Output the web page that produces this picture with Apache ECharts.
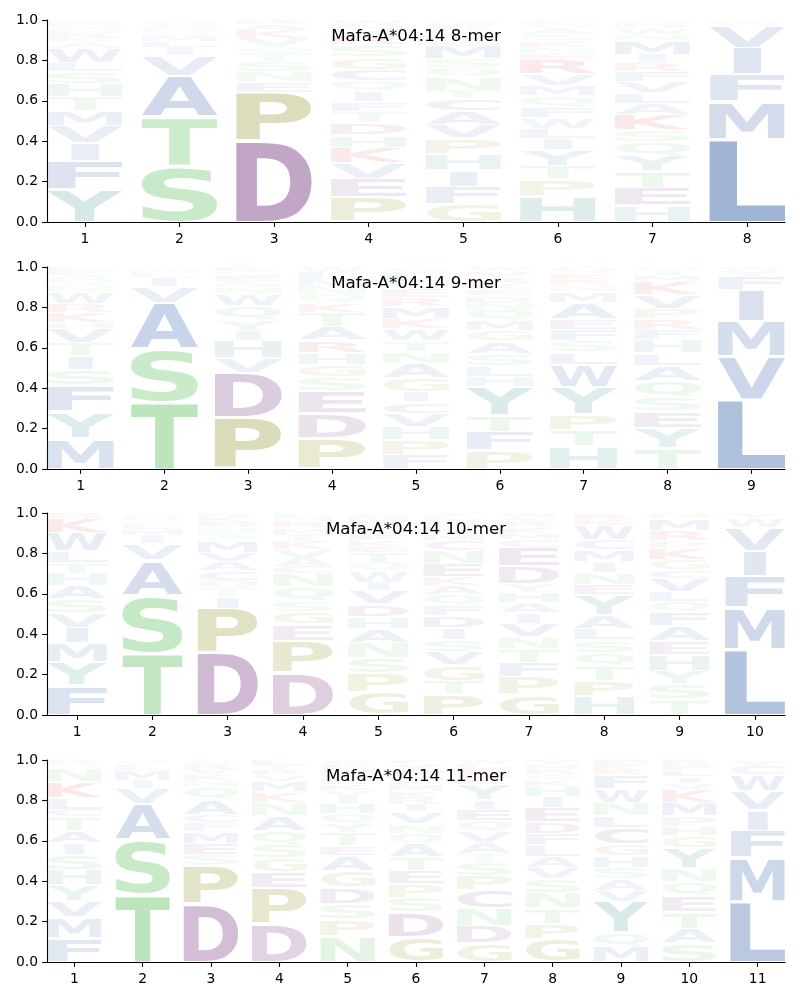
<!DOCTYPE html>
<html><head><meta charset="utf-8">
<script src="https://cdn.jsdelivr.net/npm/echarts@6.0.0/dist/echarts.min.js"></script>
<style>html,body{margin:0;padding:0;background:#fff}#c{width:800px;height:1000px}</style>
</head><body><div id="c"></div>
<script>
const panelTitles = ['Mafa-A*04:14 8-mer', 'Mafa-A*04:14 9-mer', 'Mafa-A*04:14 10-mer', 'Mafa-A*04:14 11-mer'];
const yTicks = [0, 0.2, 0.4, 0.6, 0.8, 1.0];

// Each column: letters bottom -> top with stack heights (probabilities)
const logo8mer = [
  [['Y',.16],['F',.14],['I',.09],['V',.085],['M',.075],['T',.07],['H',.065],['S',.06],['L',.045],['W',.07],['A',.03],['K',.02],['R',.025],['N',.02],['Q',.02],['E',.015],['D',.01]],
  [['S',.27],['T',.24],['A',.20],['V',.10],['I',.04],['L',.03],['M',.025],['Q',.02],['N',.02],['C',.015],['G',.015],['E',.01]],
  [['D',.39],['P',.24],['E',.05],['N',.05],['S',.05],['T',.04],['Q',.03],['V',.04],['K',.04],['A',.03],['R',.02]],
  [['P',.12],['E',.09],['V',.075],['K',.075],['H',.06],['D',.06],['T',.055],['F',.045],['I',.05],['Q',.05],['C',.055],['G',.06],['S',.06],['R',.04],['A',.03],['N',.025],['W',.025]],
  [['G',.085],['F',.085],['I',.08],['H',.08],['P',.075],['V',.065],['A',.065],['C',.06],['T',.04],['N',.065],['Q',.045],['S',.045],['M',.065],['E',.025],['D',.02],['K',.02],['R',.02],['W',.02],['Y',.015]],
  [['H',.125],['P',.08],['T',.065],['Y',.075],['I',.055],['L',.05],['W',.05],['F',.05],['Q',.055],['M',.05],['V',.055],['R',.07],['E',.03],['N',.03],['K',.03],['S',.03],['A',.03],['G',.02],['C',.02]],
  [['H',.08],['E',.085],['T',.08],['Y',.075],['Q',.065],['S',.055],['K',.075],['A',.055],['L',.05],['V',.055],['F',.05],['R',.04],['I',.04],['M',.065],['N',.03],['W',.03],['D',.02],['G',.02]],
  [['L',.40],['M',.18],['F',.13],['I',.13],['V',.11],['W',.015],['Y',.01]]
];
const logo9mer = [
  [['M',.15],['Y',.13],['F',.13],['S',.075],['I',.065],['T',.065],['V',.07],['H',.03],['K',.05],['R',.04],['W',.06],['N',.03],['Q',.03],['A',.02],['E',.02],['L',.02]],
  [['T',.33],['S',.26],['A',.23],['V',.08],['I',.045],['L',.02],['M',.015],['Q',.015]],
  [['P',.25],['D',.22],['V',.07],['H',.085],['I',.05],['Y',.05],['Q',.07],['W',.06],['N',.03],['S',.03],['E',.03],['G',.02],['K',.02]],
  [['P',.15],['D',.12],['E',.11],['S',.065],['G',.06],['H',.06],['R',.06],['A',.065],['T',.07],['K',.045],['Q',.04],['N',.04],['M',.035],['L',.035],['W',.025]],
  [['F',.07],['P',.07],['H',.065],['V',.065],['C',.055],['I',.05],['G',.065],['A',.07],['N',.06],['T',.05],['W',.06],['K',.05],['M',.06],['R',.04],['E',.04],['Q',.04],['L',.04],['S',.03]],
  [['P',.09],['F',.09],['T',.08],['Y',.14],['H',.05],['L',.05],['S',.06],['A',.06],['G',.05],['M',.05],['Q',.05],['N',.04],['D',.03],['E',.03],['K',.03],['R',.03],['V',.03],['W',.02]],
  [['H',.11],['T',.08],['P',.075],['Y',.13],['W',.11],['L',.06],['S',.055],['F',.055],['E',.05],['A',.08],['M',.05],['N',.03],['R',.03],['K',.03],['Q',.03]],
  [['T',.10],['Y',.10],['E',.08],['S',.065],['Q',.08],['A',.075],['L',.06],['H',.065],['F',.05],['R',.05],['P',.05],['V',.065],['K',.065],['M',.03],['I',.02],['N',.02]],
  [['L',.34],['V',.21],['M',.17],['I',.155],['F',.065],['Y',.025],['W',.02]]
];
const logo10mer = [
  [['F',.14],['Y',.115],['M',.09],['I',.075],['V',.07],['S',.065],['A',.065],['H',.06],['T',.05],['L',.055],['W',.09],['K',.07],['R',.025]],
  [['T',.30],['S',.28],['A',.17],['V',.08],['I',.04],['M',.03],['L',.025],['Q',.02],['N',.02],['G',.015]],
  [['D',.30],['P',.215],['I',.055],['T',.04],['Q',.04],['C',.045],['A',.045],['V',.045],['M',.06],['S',.03],['N',.03],['E',.025],['K',.025],['R',.02]],
  [['D',.20],['P',.155],['E',.08],['G',.06],['S',.05],['Q',.065],['N',.065],['C',.035],['A',.04],['V',.04],['K',.04],['T',.035],['M',.03],['R',.03],['H',.02],['L',.02]],
  [['G',.11],['P',.09],['S',.075],['N',.075],['A',.065],['H',.06],['D',.06],['V',.065],['I',.04],['W',.055],['Q',.04],['T',.05],['E',.03],['K',.03],['F',.03],['L',.03],['R',.025],['M',.025],['C',.02]],
  [['P',.10],['T',.065],['G',.075],['V',.065],['S',.06],['I',.055],['D',.06],['F',.05],['Q',.05],['A',.045],['K',.04],['E',.065],['N',.065],['C',.05],['M',.03],['R',.025],['H',.025],['W',.02],['L',.015],['Y',.015]],
  [['G',.10],['P',.085],['F',.07],['T',.065],['N',.06],['V',.065],['I',.05],['A',.05],['H',.05],['Y',.04],['D',.085],['E',.09],['C',.04],['M',.03],['K',.03],['R',.025],['S',.025],['W',.02]],
  [['H',.09],['P',.075],['T',.075],['Q',.065],['S',.06],['L',.055],['A',.065],['Y',.10],['E',.05],['N',.06],['I',.05],['M',.06],['C',.05],['W',.07],['K',.03],['R',.03]],
  [['T',.075],['S',.075],['Y',.065],['H',.075],['E',.065],['A',.075],['F',.065],['Q',.05],['L',.05],['V',.065],['C',.04],['G',.05],['K',.055],['P',.035],['R',.05],['M',.06],['N',.025]],
  [['L',.32],['M',.20],['F',.15],['I',.125],['V',.115],['W',.045],['Y',.025]]
];
const logo11mer = [
  [['F',.115],['M',.10],['V',.08],['Y',.075],['H',.075],['S',.075],['I',.055],['A',.06],['T',.065],['C',.035],['L',.055],['K',.08],['N',.065],['Q',.02],['R',.02]],
  [['T',.33],['S',.265],['A',.175],['V',.075],['I',.04],['M',.05],['L',.025],['Q',.025]],
  [['D',.28],['P',.19],['S',.05],['E',.055],['M',.06],['F',.04],['C',.04],['A',.075],['Q',.06],['N',.03],['K',.03],['V',.025],['R',.025],['G',.02]],
  [['D',.185],['P',.17],['E',.08],['G',.065],['S',.065],['Q',.065],['A',.075],['N',.065],['K',.05],['M',.05],['V',.03],['R',.025],['T',.025],['L',.025]],
  [['N',.125],['P',.08],['S',.075],['D',.08],['G',.08],['A',.075],['E',.045],['T',.065],['Y',.04],['Q',.05],['H',.05],['I',.035],['V',.03],['K',.03],['L',.025],['R',.025],['M',.02],['F',.025],['C',.02]],
  [['G',.12],['D',.12],['S',.07],['P',.065],['E',.065],['T',.065],['A',.065],['Q',.05],['N',.045],['V',.06],['I',.035],['R',.035],['K',.03],['M',.025],['L',.025],['H',.02],['F',.03],['Y',.03],['C',.02]],
  [['G',.09],['D',.085],['N',.085],['C',.085],['P',.07],['S',.065],['T',.04],['A',.055],['V',.055],['Q',.05],['E',.055],['I',.045],['Y',.075],['K',.03],['M',.025],['R',.025],['L',.02],['W',.02]],
  [['G',.11],['P',.075],['T',.075],['N',.075],['S',.065],['V',.055],['A',.055],['L',.055],['F',.055],['D',.055],['E',.07],['I',.055],['H',.05],['K',.03],['Q',.025],['R',.025],['M',.02],['Y',.025]],
  [['M',.075],['Q',.065],['Y',.15],['V',.055],['A',.055],['S',.055],['H',.055],['G',.06],['C',.08],['L',.055],['N',.065],['W',.065],['F',.065],['R',.025],['K',.025],['E',.025]],
  [['S',.09],['A',.07],['T',.08],['E',.08],['Q',.065],['N',.065],['Y',.10],['G',.055],['H',.045],['P',.05],['M',.065],['K',.065],['V',.03],['I',.03],['L',.03],['F',.025],['R',.025]],
  [['L',.29],['M',.21],['F',.13],['I',.10],['V',.09],['W',.08],['C',.04],['Y',.03]]
];

const classColors = {
  hydrophobic: [76, 114, 176],
  polar: [100, 195, 100],
  acidic: [137, 81, 145],
  special: [150, 150, 50],
  aromatic: [70, 150, 150],
  basic: [220, 60, 60]
};
const letterClass = {
  A:'hydrophobic', V:'hydrophobic', L:'hydrophobic', I:'hydrophobic', M:'hydrophobic', F:'hydrophobic', W:'hydrophobic',
  S:'polar', T:'polar', N:'polar', Q:'polar',
  D:'acidic', E:'acidic', C:'acidic',
  P:'special', G:'special',
  H:'aromatic', Y:'aromatic',
  K:'basic', R:'basic'
};

const panels = [logo8mer, logo9mer, logo10mer, logo11mer];
const gridTops = [20, 267, 513, 760];
const GRID_H = 202, GRID_L = 47, GRID_R = 15;
const HALF_W = 0.4;

const FONT = 'bold 100px "DejaVu Sans"';
const mctx = document.createElement('canvas').getContext('2d');
mctx.font = FONT; mctx.textBaseline = 'middle'; mctx.textAlign = 'left';
const mcache = {};
function glyphBox(ch) {
  if (!mcache[ch]) {
    const m = mctx.measureText(ch);
    mcache[ch] = {l: m.actualBoundingBoxLeft, r: m.actualBoundingBoxRight, a: m.actualBoundingBoxAscent, d: m.actualBoundingBoxDescent};
  }
  return mcache[ch];
}
const gE = glyphBox('E');

function buildSeries(cols, pi) {
  const data = [], letters = [];
  cols.forEach((col, ci) => {
    const total = col.reduce((s, c) => s + c[1], 0);
    let y = 0;
    col.forEach(([ch, h]) => {
      const hh = h / total;
      data.push([ci + 1, y, y + hh, hh]);
      letters.push(ch);
      y += hh;
    });
  });
  return {
    type: 'custom', xAxisIndex: pi, yAxisIndex: pi, silent: true, clip: false,
    data: data,
    renderItem: function (params, api) {
      const ch = letters[params.dataIndex];
      const p = api.value(0), y0 = api.value(1), y1 = api.value(2), hh = api.value(3);
      const tl = api.coord([p - HALF_W, y1]);
      const br = api.coord([p + HALF_W, y0]);
      const W = br[0] - tl[0];
      const slot = br[1] - tl[1];
      const pad = Math.min(3, slot * 0.12);
      const ytop = tl[1] + pad / 2, ybot = br[1] - pad / 2;
      const g = glyphBox(ch);
      // glyphs narrower than 'E' are not stretched more than 'E' would be
      const sx = Math.min(W / (g.l + g.r), W / (gE.l + gE.r));
      const sy = (ybot - ytop) / (g.a + g.d);
      const cx = (tl[0] + br[0]) / 2;
      const c = classColors[letterClass[ch]];
      const alpha = Math.min(1, 0.015 + 1.25 * hh);
      return {
        type: 'text',
        x: cx - sx * (g.r - g.l) / 2,
        y: ytop + sy * g.a,
        scaleX: sx, scaleY: sy,
        style: {
          text: ch, x: 0, y: 0, font: FONT,
          fill: 'rgba(' + c[0] + ',' + c[1] + ',' + c[2] + ',' + alpha.toFixed(3) + ')',
          align: 'left', verticalAlign: 'middle',
          textAlign: 'left', textVerticalAlign: 'middle'
        }
      };
    }
  };
}

const labelStyle = {fontFamily: 'DejaVu Sans', fontSize: 13.9, color: '#000'};
const option = {
  animation: false,
  backgroundColor: '#fff',
  title: panels.map((cols, i) => ({
    text: panelTitles[i], left: 411, top: gridTops[i] + 3, textAlign: 'center',
    textStyle: {fontFamily: 'DejaVu Sans', fontSize: 16.7, fontWeight: 'normal', color: '#000'}
  })),
  grid: panels.map((cols, i) => ({left: GRID_L, right: GRID_R, top: gridTops[i], height: GRID_H})),
  xAxis: panels.map((cols, i) => {
    const ticks = cols.map((c, k) => k + 1);
    return {
      type: 'value', gridIndex: i, min: 1 - 0.4, max: cols.length + 0.4,
      axisLine: {show: true, lineStyle: {color: '#000', width: 1.1}},
      axisTick: {show: true, length: 4.9, lineStyle: {color: '#000', width: 1.1}, customValues: ticks},
      axisLabel: Object.assign({margin: 10, customValues: ticks, formatter: v => String(Math.round(v))}, labelStyle),
      splitLine: {show: false}
    };
  }),
  yAxis: panels.map((cols, i) => ({
    type: 'value', gridIndex: i, min: yTicks[0], max: yTicks[yTicks.length - 1], interval: 0.2,
    axisLine: {show: true, lineStyle: {color: '#000', width: 1.1}},
    axisTick: {show: true, length: 4.9, lineStyle: {color: '#000', width: 1.1}},
    axisLabel: Object.assign({margin: 9, formatter: v => v.toFixed(1)}, labelStyle),
    splitLine: {show: false}
  })),
  series: panels.map((cols, i) => buildSeries(cols, i))
};
const chart = echarts.init(document.getElementById('c'), null, {renderer: 'canvas'});
chart.setOption(option);
</script>
</body></html>
